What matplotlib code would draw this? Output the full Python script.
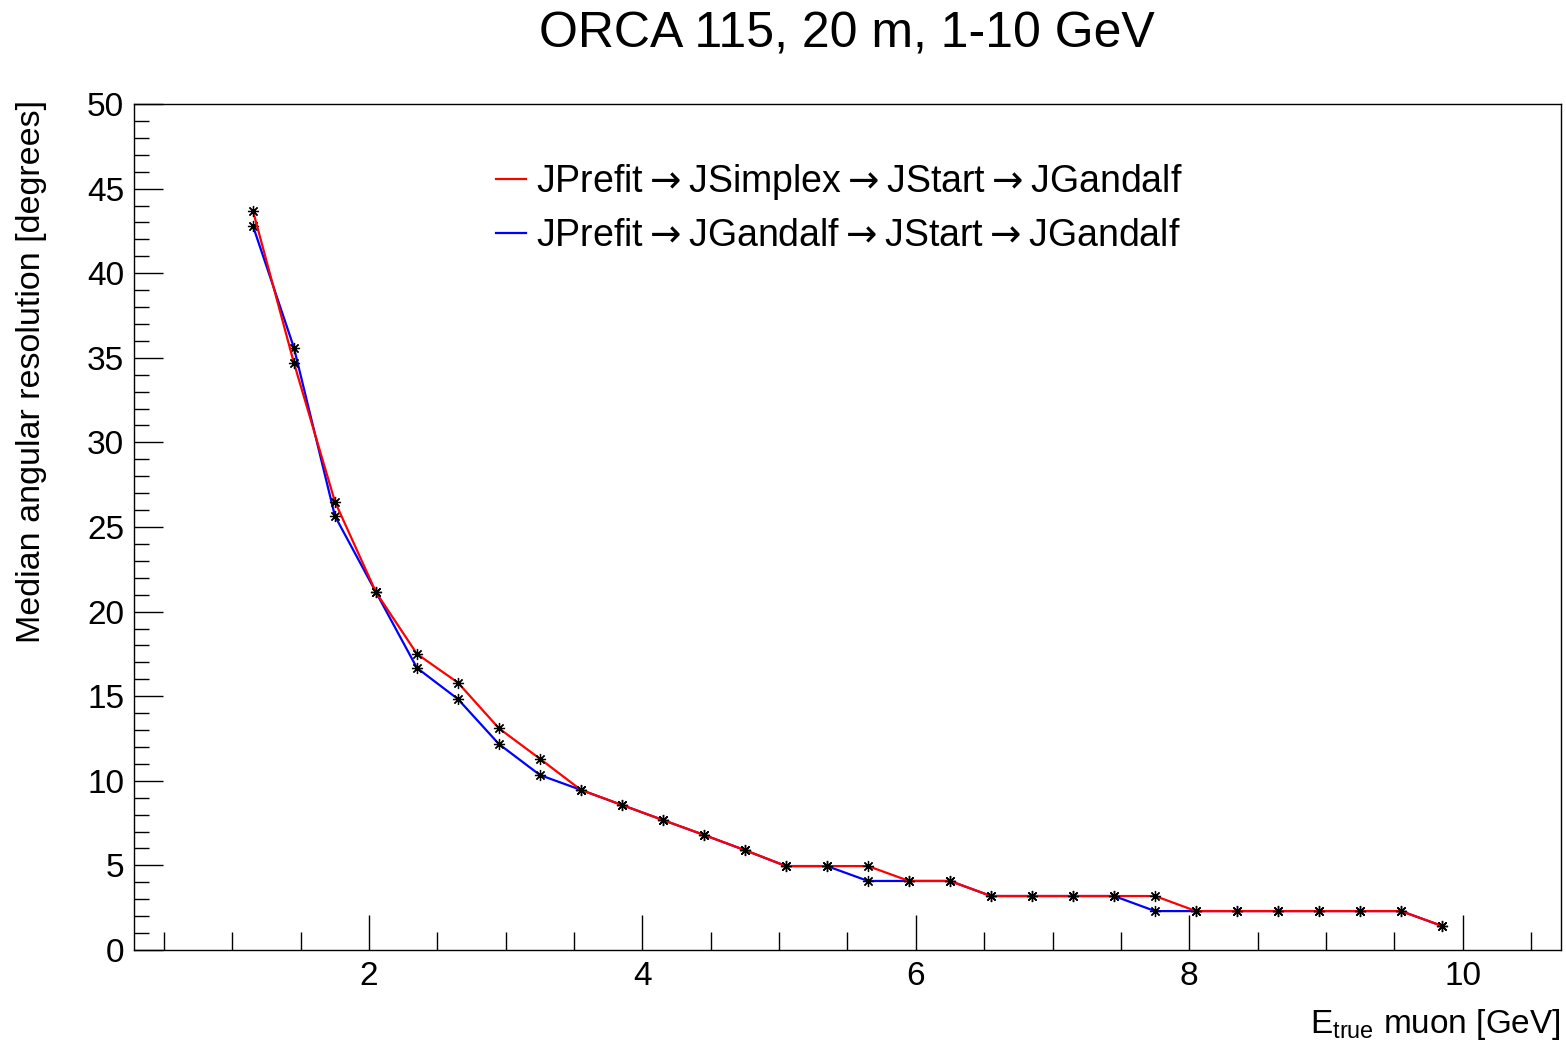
import numpy as np
import matplotlib
matplotlib.use("Agg")
import matplotlib.pyplot as plt
from matplotlib.ticker import MultipleLocator

plt.rcParams['font.family'] = ['Liberation Sans', 'DejaVu Sans']
plt.rcParams['mathtext.fontset'] = 'custom'
plt.rcParams['mathtext.rm'] = 'Liberation Sans'
plt.rcParams['mathtext.it'] = 'Liberation Sans'

# energie (GeV) i mediana rozdzielczosci katowej (stopnie)
energy = [1.15, 1.45, 1.75, 2.05, 2.35, 2.65, 2.95, 3.25, 3.55, 3.85,
          4.15, 4.45, 4.75, 5.05, 5.35, 5.65, 5.95, 6.25, 6.55, 6.85,
          7.15, 7.45, 7.75, 8.05, 8.35, 8.65, 8.95, 9.25, 9.55, 9.85]
res_simplex = [43.7, 34.7, 26.5, 21.15, 17.5, 15.8, 13.1, 11.3, 9.46, 8.57,
               7.68, 6.8, 5.9, 4.96, 4.96, 4.96, 4.08, 4.08, 3.19, 3.19,
               3.19, 3.19, 3.19, 2.3, 2.3, 2.3, 2.3, 2.3, 2.3, 1.42]
res_gandalf = [42.8, 35.6, 25.65, 21.15, 16.67, 14.83, 12.17, 10.34, 9.46, 8.57,
               7.68, 6.8, 5.9, 4.96, 4.96, 4.08, 4.08, 4.08, 3.19, 3.19,
               3.19, 3.19, 2.3, 2.3, 2.3, 2.3, 2.3, 2.3, 2.3, 1.42]
arrow = r'$\rightarrow$'
label_simplex = 'JPrefit' + arrow + 'JSimplex' + arrow + 'JStart' + arrow + 'JGandalf'
label_gandalf = 'JPrefit' + arrow + 'JGandalf' + arrow + 'JStart' + arrow + 'JGandalf'

fig = plt.figure(figsize=(15.66, 10.46), dpi=100)
ax = fig.add_axes([134 / 1566, 1 - 950 / 1046, (1561 - 134) / 1566, (950 - 104) / 1046])

star = (8, 2, 0)
ax.plot(energy, res_gandalf, color='#0000ff', lw=1.6, marker=star, ms=8,
        mec='black', mew=0.9, label=label_gandalf, zorder=3)
ax.plot(energy, res_simplex, color='#ff0000', lw=1.6, marker=star, ms=8,
        mec='black', mew=0.9, label=label_simplex, zorder=4)

ax.set_xlim(0.28, 10.72)
ax.set_ylim(0, 50)
ax.xaxis.set_major_locator(MultipleLocator(2))
ax.xaxis.set_minor_locator(MultipleLocator(0.5))
ax.yaxis.set_major_locator(MultipleLocator(5))
ax.yaxis.set_minor_locator(MultipleLocator(1))
ax.tick_params(which='both', direction='in', top=False, right=False, labelsize=24, width=1)
ax.tick_params(axis='x', which='major', length=25, pad=8)
ax.tick_params(axis='x', which='minor', length=13)
ax.tick_params(axis='y', which='major', length=21, pad=7)
ax.tick_params(axis='y', which='minor', length=11)
for s in ax.spines.values():
    s.set_linewidth(1)

handles, labels = ax.get_legend_handles_labels()
leg = ax.legend(handles[::-1], labels[::-1], loc='upper left', bbox_to_anchor=(0.254, 0.931),
                frameon=False, borderpad=0, borderaxespad=0,
                prop=dict(size=27, math_fontfamily='dejavusans'),
                handlelength=0.8, handletextpad=0.25, labelspacing=0.42)
for h in leg.get_lines():
    h.set_marker('')

fig.text(0.541, 1 - 34 / 1046, 'ORCA 115, 20 m, 1-10 GeV', ha='center', va='center', fontsize=36)
fig.text(1561 / 1566, 1 - 1025 / 1046, r'E$_{\mathrm{true}}$ muon [GeV]', ha='right', va='center', fontsize=24)
fig.text(32 / 1566, 1 - 100 / 1046, 'Median angular resolution [degrees]', rotation=90,
         ha='center', va='top', fontsize=24.5)

fig.savefig('out.png', dpi=100)
